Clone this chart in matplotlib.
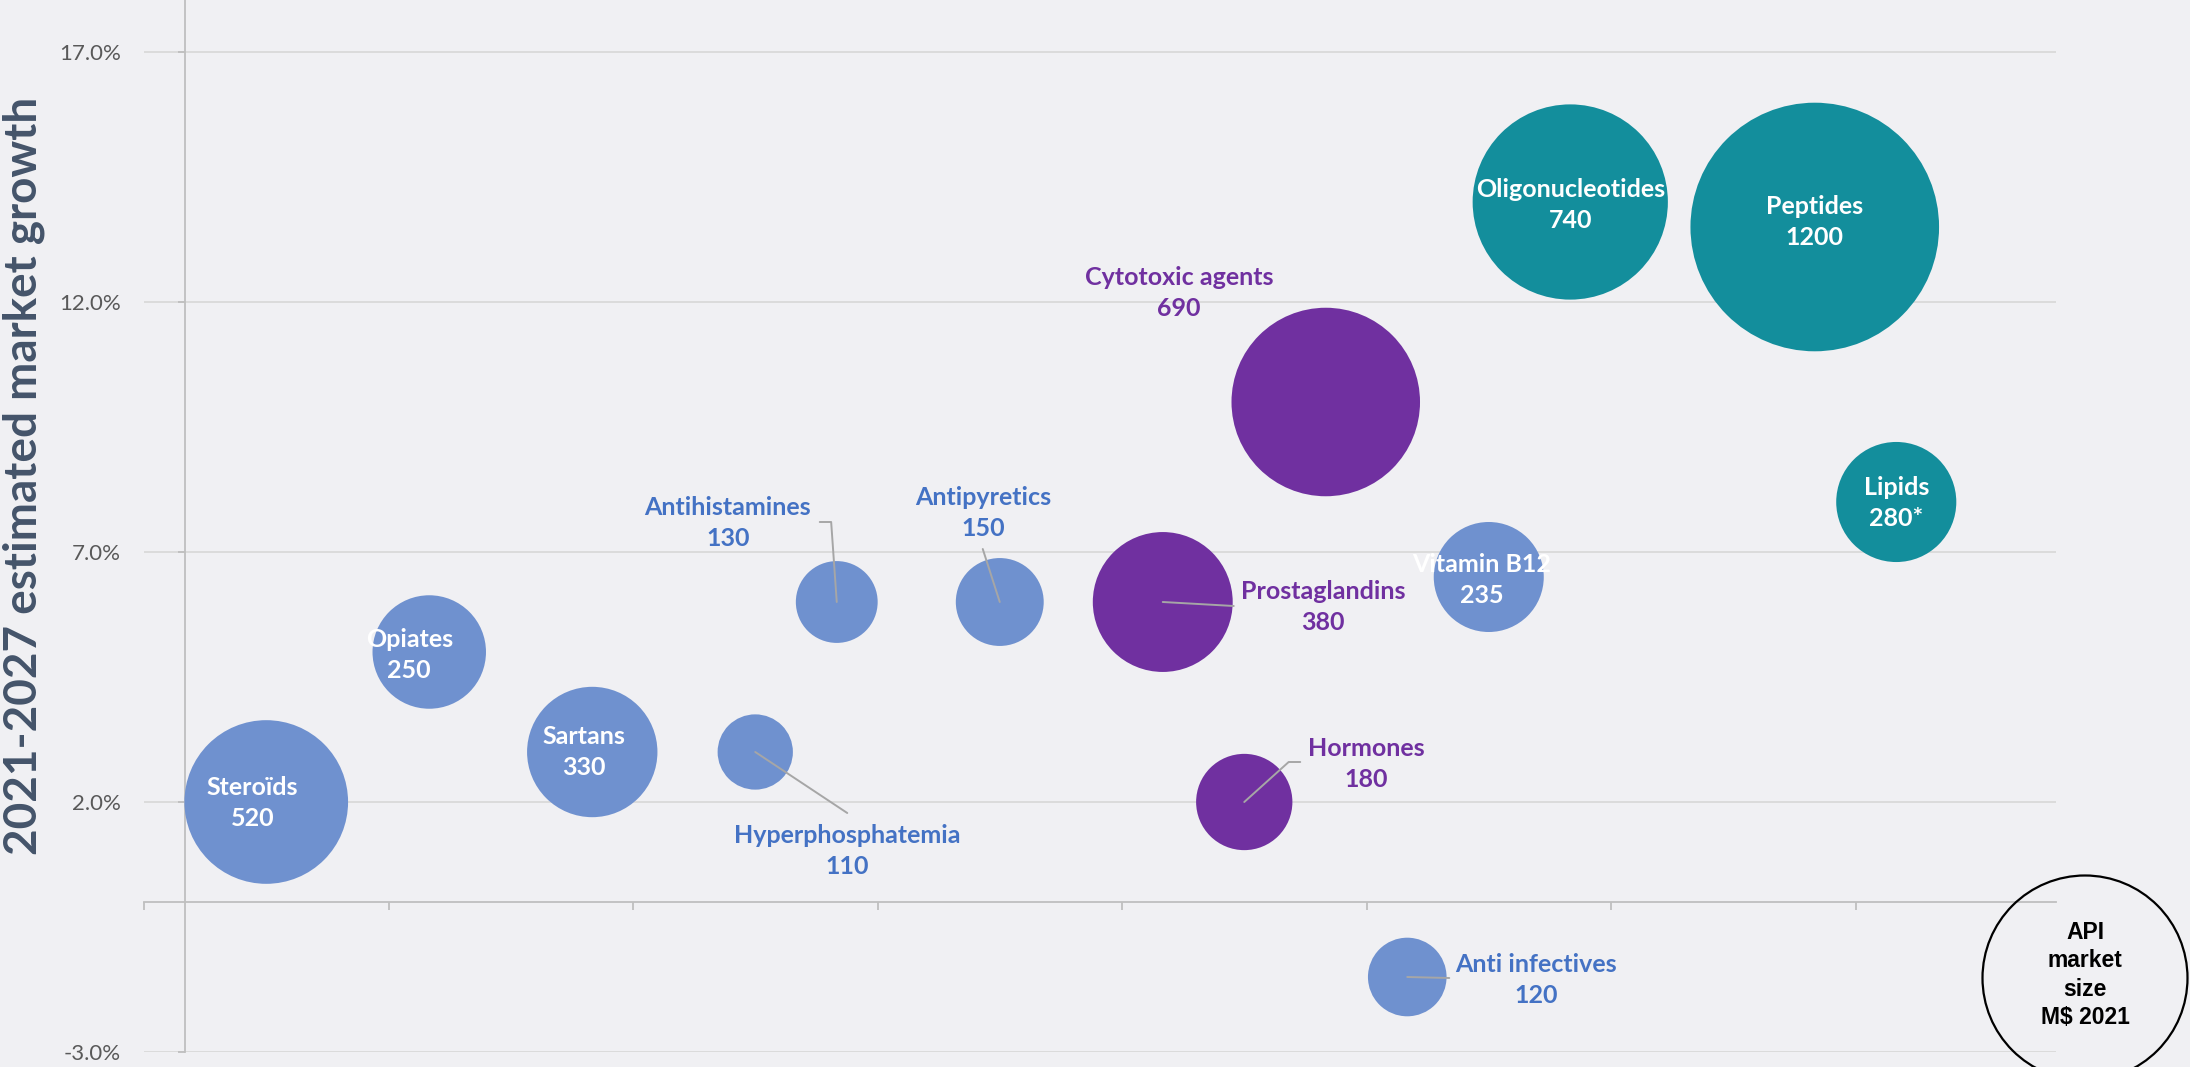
import matplotlib
matplotlib.use('Agg')
import matplotlib.pyplot as plt
from matplotlib.patches import Ellipse
import numpy as np

# API families, market size (M$ 2021) and estimated growth 2021-2027 (%)
names = ['Steroïds', 'Opiates', 'Sartans', 'Hyperphosphatemia', 'Antihistamines',
         'Antipyretics', 'Prostaglandins', 'Hormones', 'Cytotoxic agents',
         'Anti infectives', 'Vitamin B12', 'Oligonucleotides', 'Peptides', 'Lipids']
size_labels = ['520', '250', '330', '110', '130', '150', '380', '180', '690',
               '120', '235', '740', '1200', '280*']
market_size = [520, 250, 330, 110, 130, 150, 380, 180, 690, 120, 235, 740, 1200, 280]
growth = [2.0, 5.0, 3.0, 3.0, 6.0, 6.0, 6.0, 2.0, 10.0, -1.5, 6.5, 14.0, 13.5, 8.0]
position = [1, 3, 5, 7, 8, 10, 12, 13, 14, 15, 16, 17, 20, 21]
group = ['small', 'small', 'small', 'small', 'small', 'small', 'complex', 'complex',
         'complex', 'small', 'small', 'new', 'new', 'new']

y_ticks = [-3, 2, 7, 12, 17]

fill_colors = {'small': '#6f91cf', 'complex': '#7030a0', 'new': '#138e9c'}
text_colors = {'small': '#4472c4', 'complex': '#7030a0', 'new': '#138e9c'}
bg = '#f0f0f3'

# label offsets from the bubble centre, in pixels (inside labels are white)
inside = {'Steroïds': (-14, -1), 'Opiates': (-20, -3), 'Sartans': (-8, 0),
          'Vitamin B12': (-7, -3), 'Oligonucleotides': (0, -3), 'Peptides': (0, 5),
          'Lipids': (0, -1)}
outside = {'Antihistamines': (-109, 79), 'Antipyretics': (-17, 89),
           'Prostaglandins': (160, -5), 'Hormones': (122, 38),
           'Hyperphosphatemia': (92, -99), 'Anti infectives': (129, -3),
           'Cytotoxic agents': (-147, 109)}
# leader line end (px from centre) and connection style
leaders = {'Antihistamines': ((-17, 80), 'angle,angleA=0,angleB=94,rad=0'),
           'Antipyretics': ((-17, 53), 'arc3'),
           'Prostaglandins': ((71, -4), 'arc3'),
           'Hormones': ((56, 40), 'angle,angleA=0,angleB=42,rad=0'),
           'Hyperphosphatemia': ((92, -61), 'arc3'),
           'Anti infectives': ((42, -1), 'arc3')}

fig = plt.figure(figsize=(21.9, 10.67), dpi=100, facecolor=bg)
ax = fig.add_axes([144 / 2190, 15 / 1067, 1912 / 2190, 1052 / 1067], facecolor=bg)

ax.set_xlim(-0.5, 22.96)
ax.set_ylim(-3, 18.04)

# bubble area proportional to market size, largest ~179 pt wide
max_d = 179.0
sizes = [max_d ** 2 * v / max(market_size) for v in market_size]
ax.scatter(position, growth, s=sizes, c=[fill_colors[g] for g in group],
           linewidths=0, zorder=3)

label_font = dict(family=['Lato', 'DejaVu Sans'], fontweight='bold', fontsize=18)
for name, val, x, y, g in zip(names, size_labels, position, growth, group):
    txt = name + '\n' + val
    if name in inside:
        ax.annotate(txt, (x, y), xytext=inside[name], textcoords='offset pixels',
                    ha='center', va='center', color='white', linespacing=1.45,
                    zorder=5, **label_font)
    else:
        ax.annotate(txt, (x, y), xytext=outside[name], textcoords='offset pixels',
                    ha='center', va='center', color=text_colors[g], linespacing=1.45,
                    zorder=5, **label_font)
    if name in leaders:
        end, cs = leaders[name]
        ax.annotate('', (x, y), xytext=end, textcoords='offset pixels',
                    arrowprops=dict(arrowstyle='-', color='#a6a6a6', lw=1.4,
                                    shrinkA=0, shrinkB=0, connectionstyle=cs),
                    zorder=4)

# axes: vertical axis crosses at x = 0, horizontal axis at 0 %
ax.spines['top'].set_visible(False)
ax.spines['right'].set_visible(False)
ax.spines['left'].set_position(('data', 0))
ax.spines['bottom'].set_position(('data', 0))
for side in ['left', 'bottom']:
    ax.spines[side].set_color('#bfbfbf')
    ax.spines[side].set_linewidth(1.3)
ax.spines['left'].set_bounds(-3, 18.04)

ax.set_xticks(np.arange(-0.5, 22, 3))
ax.set_xticklabels([])
ax.tick_params(axis='x', direction='out', length=6, width=1.3, color='#bfbfbf')

ax.set_yticks(y_ticks)
ax.set_yticklabels(['{:.1f}%'.format(t) for t in y_ticks])
ax.tick_params(axis='y', direction='out', length=5, width=1.3, color='#bfbfbf',
               pad=41, labelsize=16, labelcolor='#595959')
for lab in ax.get_yticklabels():
    lab.set_family(['Lato', 'DejaVu Sans'])
ax.yaxis.grid(True, color='#d9d9d9', linewidth=1.3, zorder=0)
ax.set_axisbelow(True)

fig.text(24 / 2190, 1 - 476 / 1067, '2021-2027 estimated market growth', rotation=90,
         ha='center', va='center', fontsize=33, fontweight='bold', color='#44546a',
         family=['Lato', 'DejaVu Sans'])

# size key in the bottom right corner
key = Ellipse((2085 / 2190, 1 - 978 / 1067), 205 / 2190, 205 / 1067,
              transform=fig.transFigure, fill=False, edgecolor='black', linewidth=1.6,
              clip_on=False)
fig.patches.append(key)
fig.text(2085 / 2190, 1 - 975 / 1067, 'API\nmarket\nsize\nM$ 2021', ha='center',
         va='center', fontsize=16.5, fontweight='bold', color='black', linespacing=1.3,
         family=['Liberation Sans', 'DejaVu Sans'])

fig.savefig('out.png', dpi=100, facecolor=bg)
